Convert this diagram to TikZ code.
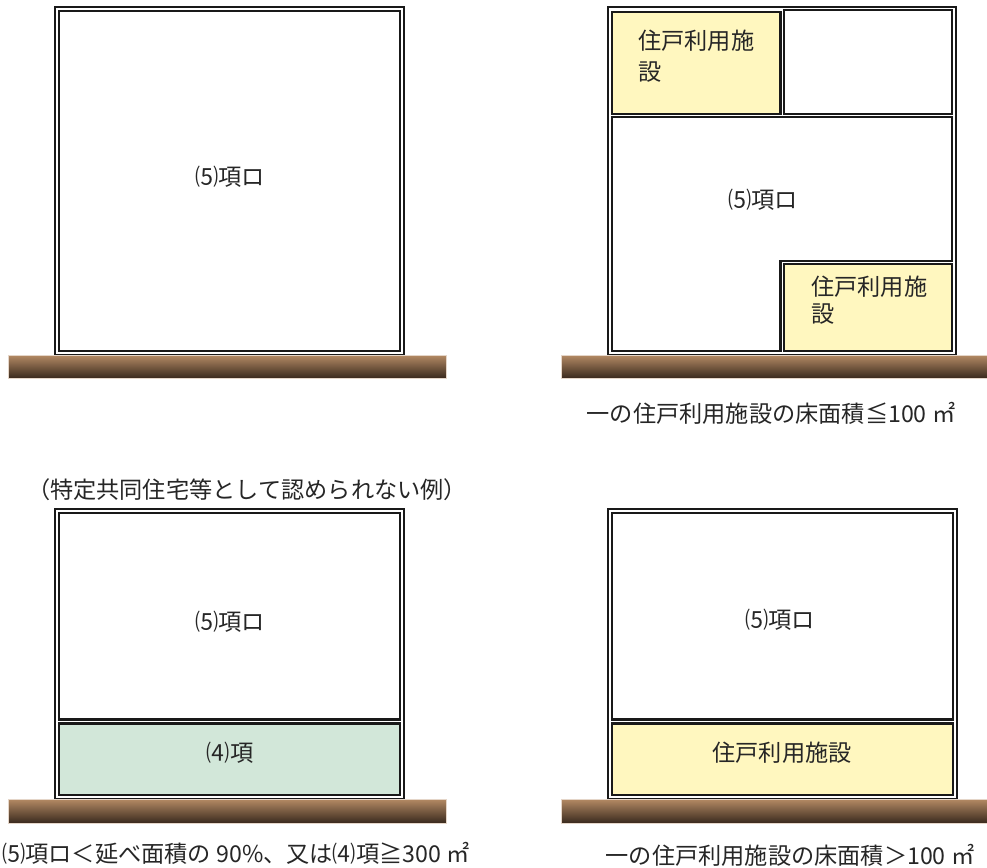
\documentclass[tikz,border=0pt]{standalone}
\usepackage{fontspec}
\newfontfamily\jp{Noto Sans CJK JP}
\usetikzlibrary{positioning}
\definecolor{yellowfill}{HTML}{FFF7BF}
\definecolor{greenfill}{HTML}{D2E7D9}
\definecolor{groundtop}{HTML}{B48A64}
\definecolor{groundmid}{HTML}{765840}
\definecolor{groundbot}{HTML}{3A2A1E}
\tikzset{
	outer/.style={draw=black!90, line width=1.15pt, fill=white},
	room/.style={draw=black!90, line width=1.15pt, fill=white},
	yroom/.style={room, fill=yellowfill},
	groom/.style={room, fill=greenfill},
	ground/.style={top color=groundtop, middle color=groundmid, bottom color=groundbot, draw=groundtop!35, line width=0.4pt},
	txt/.style={font=\jp\fontsize{13.2}{15.5}\selectfont, text=black!85, inner sep=0pt},
}

\begin{document}
\begin{tikzpicture}[x=0.02cm, y=-0.02cm]
		\useasboundingbox (0,0) rectangle (987,868);
		
		% top left
		\draw[outer] (55,7) rectangle (404,355);
		\draw[room] (59,11) rectangle (400,351);
		\shade[ground] (8,355) rectangle (446,378);
		\node (tl5) [txt] at (230,177) {⑸項ロ};
		
		% top right
		\draw[outer] (608,7) rectangle (956,355);
		\draw[yroom] (612,12) rectangle (780.5,114);
		\draw[room] (783.5,10) rectangle (952,114);
		\draw[room] (612,117) -- (952,117) -- (952,261) -- (780.5,261) -- (780.5,351) -- (612,351) -- cycle;
		\draw[yroom] (783.5,264) rectangle (952,351);
		\shade[ground] (561,355) rectangle (1000,378);
		\node (tr5) [txt] at (763,200) {⑸項ロ};
		\node (tra) [txt, anchor=north west, align=left, font=\jp\fontsize{13.2}{17.6}\selectfont] at (638,30) {住戸利用施\\設};
		\node (trb) [txt, anchor=north west, align=left, font=\jp\fontsize{13.2}{15.3}\selectfont] at (811,276) {住戸利用施\\設};
		\node (trcap) [txt] at (771,413) {一の住戸利用施設の床面積≦100 ㎡};
		
		% bottom left
		\node (bltitle) [txt] at (247,490) {（特定共同住宅等として認められない例）};
		\draw[outer] (55,509) rectangle (404,799);
		\draw[room] (59,513) rectangle (400,719.5);
		\draw[groom] (59,723.5) rectangle (400,795);
		\shade[ground] (8,799) rectangle (446,823);
		\node (bl5) [txt] at (230,622) {⑸項ロ};
		\node (bl4) [txt] at (230,753) {⑷項};
		\node (blcap) [txt, anchor=west] at (2,853) {⑸項ロ＜延べ面積の 90\%、又は⑷項≧300 ㎡};
		
		% bottom right
		\draw[outer] (608,509) rectangle (957,799);
		\draw[room] (612,513) rectangle (953,719.5);
		\draw[yroom] (612,723.5) rectangle (953,795);
		\shade[ground] (561,799) rectangle (1000,823);
		\node (br5) [txt] at (780,620) {⑸項ロ};
		\node (bra) [txt] at (782,753) {住戸利用施設};
		\node (brcap) [txt] at (790,855) {一の住戸利用施設の床面積＞100 ㎡};
\end{tikzpicture}
\end{document}
